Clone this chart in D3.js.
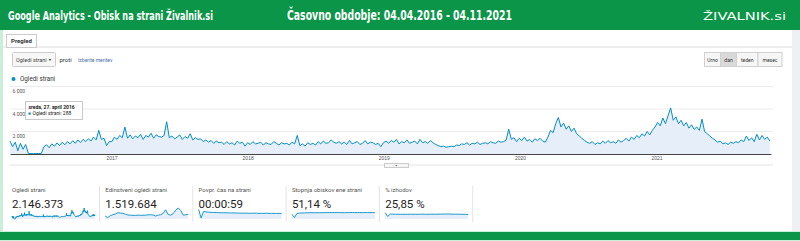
<!doctype html>
<html>
<head>
<meta charset="utf-8">
<script src="https://d3js.org/d3.v7.min.js"></script>
<style>
  body { margin: 0; background: #fff; }
  svg { display: block; font-family: Roboto, Arial, sans-serif; }
  .head { fill: #fff; font-family: "Liberation Sans Narrow", "DejaVu Sans Condensed", sans-serif; font-weight: bold; }
  .xaxis path.domain { stroke: #444; }
  .xaxis text { fill: #555; font-size: 5px; }
  .small { fill: #444; font-size: 5.5px; }
</style>
</head>
<body>
<svg width="800" height="241"></svg>
<script>
// weekly page views, starting Monday 4 April 2016
const views2016 = [1150, 650, 1050, 290, 950, 420, 850, 60, 40, 30, 50, 40, 60, 650, 820, 560, 900, 700, 980, 760,
  1050, 820, 1100, 900, 1180, 950, 1250, 1020, 1300, 1100, 1350, 1150, 1500, 1250, 2100, 1300, 1400, 750, 1100];
const views2017 = [1100, 1500, 1300, 1650, 1450, 2400, 1400, 1700, 1350, 1600, 1450, 1750, 1300, 1650, 1500, 1850,
  1400, 1700, 1550, 1500, 1650, 2870, 1450, 1600, 1350, 1500, 1700, 1300, 1550, 1400, 1800, 1250, 1450, 1300, 1350,
  1100, 1250, 1050, 1200, 950, 1150, 1000, 1050, 850, 1100, 900, 1000, 800, 1150, 950, 1050, 700];
const views2018 = [1000, 850, 1100, 900, 950, 1050, 800, 1000, 900, 850, 1100, 950, 800, 1000, 900, 950, 800, 1050,
  900, 1650, 750, 900, 700, 1000, 850, 950, 800, 1100, 900, 1150, 950, 1000, 1250, 1050, 950, 1100, 900, 1050, 850,
  1200, 900, 1000, 1100, 850, 950, 1200, 900, 1050, 1000, 850, 950, 650];
const views2019 = [1000, 1150, 950, 1200, 1050, 1300, 900, 1100, 1000, 1250, 950, 1050, 1150, 900, 1300, 1000, 1100,
  950, 1200, 1000, 850, 750, 650, 700, 600, 650, 700, 650, 800, 750, 900, 850, 1000, 800, 950, 900, 1050, 850, 950,
  1000, 900, 1100, 1000, 950, 1150, 1050, 1100, 1250, 2200, 1300, 1450, 1100];
const views2020 = [1400, 1200, 1500, 1150, 1300, 1050, 1350, 1200, 1400, 1150, 1050, 1500, 2100, 1900, 2700, 3250,
  2400, 2750, 2200, 2500, 2000, 2300, 1800, 1600, 1400, 1200, 1050, 950, 1100, 850, 1000, 900, 1150, 950, 1200, 1000,
  1100, 950, 1250, 1050, 1200, 1400, 1150, 1500, 1300, 1650, 1450, 1800, 1600, 2000, 1700, 2100];
const views2021 = [2400, 2800, 2500, 3200, 2700, 3400, 4100, 3000, 3300, 2700, 3000, 2500, 2800, 2300, 2600, 2200,
  2400, 2100, 3100, 2000, 1800, 1600, 1400, 1250, 1050, 1150, 900, 1000, 850, 1050, 950, 1100, 1000, 1250, 1100, 1600,
  1200, 1450, 1100, 1750, 1250, 1650, 1300, 1500, 1150];

const yTicks = [2000, 4000, 6000];
const yearTicks = [2017, 2018, 2019, 2020, 2021];
const tabs = ["Pregled"];
const periodButtons = ["Urno", "dan", "teden", "mesec"];
const tipDay = "sreda, 27. april 2016";
const tipValue = 288;

// scorecards (two-monthly values for the sparklines)
const metricLabels = ["Ogledi strani", "Edinstveni ogledi strani", "Povpr. čas na strani", "Stopnja obiskov ene strani", "% izhodov"];
const metricTotals = ["2.146.373", "1.519.684", "00:00:59", "51,14 %", "25,85 %"];
const sparkUnique = [480, 250, 560, 720, 850, 1050, 1000, 950, 800, 680, 640, 620, 600, 650, 620, 630, 650, 700, 720,
  680, 500, 650, 720, 950, 1550, 750, 650, 900, 1500, 1850, 1400, 650, 720, 800];
const sparkTime = [95, 10, 75, 70, 68, 66, 65, 64, 63, 62, 62, 61, 61, 60, 60, 59, 59, 58, 58, 58, 57, 57, 58, 57, 56,
  56, 56, 57, 56, 56, 56, 55, 56, 55];
const sparkBounce = [38, 12, 45, 48, 49, 50, 50, 51, 51, 51, 51, 51, 51.5, 51.5, 52, 52, 52, 52, 52, 52, 51, 51.5, 52,
  52, 52.5, 52, 52, 52, 52, 52.5, 52, 52, 52, 51.5];
const sparkExits = [34, 14, 27, 26, 26, 25.5, 25.5, 25.5, 25.5, 25.5, 26, 25.5, 25.5, 25.5, 26, 26, 25.5, 25.5, 26, 26,
  26, 26, 26.5, 26.5, 27, 27, 26.5, 26, 26, 26, 25.5, 25.5, 25, 24.5];

const startDate = new Date(2016, 3, 4);
const endDate = new Date(2021, 10, 4);
const views = [].concat(views2016, views2017, views2018, views2019, views2020, views2021);
const weekly = views.map((v, i) => ({ date: d3.timeDay.offset(startDate, i * 7), value: v }));

const green = "#0a9548";
const blue = "#058dc7";
const fmt = d3.formatLocale({ decimal: ",", thousands: ".", grouping: [3], currency: ["", "€"] }).format(",");

const svg = d3.select("svg");

// page frame
svg.append("rect").attr("width", 800).attr("height", 241).attr("fill", "#c9eed9");
svg.append("rect").attr("x", 3).attr("y", 30).attr("width", 797).attr("height", 201).attr("fill", "#fff");
svg.append("rect").attr("x", 792).attr("y", 30).attr("width", 8).attr("height", 201).attr("fill", "#eef0f3");
svg.append("rect").attr("width", 800).attr("height", 30).attr("fill", green);
svg.append("rect").attr("y", 232).attr("width", 800).attr("height", 8).attr("fill", green);

svg.append("text").attr("class", "head").attr("x", 8).attr("y", 19.5)
  .attr("font-size", 12.5).attr("textLength", 205).attr("lengthAdjust", "spacingAndGlyphs")
  .text("Google Analytics - Obisk na strani Živalnik.si");
svg.append("text").attr("class", "head").attr("x", 287).attr("y", 20)
  .attr("font-size", 14).attr("textLength", 225).attr("lengthAdjust", "spacingAndGlyphs")
  .text("Časovno obdobje: 04.04.2016 - 04.11.2021");
svg.append("text").attr("x", 703).attr("y", 19.5).attr("fill", "#fff")
  .attr("font-family", "DejaVu Sans, sans-serif").attr("font-size", 11)
  .attr("textLength", 83).attr("lengthAdjust", "spacingAndGlyphs")
  .text("ŽIVALNIK.si");

// tab row
svg.append("line").attr("x1", 3).attr("x2", 792).attr("y1", 47).attr("y2", 47).attr("stroke", "#ddd");
tabs.forEach((t, i) => {
  svg.append("rect").attr("x", 6.5 + i * 40).attr("y", 34.5).attr("width", 30).attr("height", 13)
    .attr("fill", "#fff").attr("stroke", "#ccc");
  svg.append("text").attr("x", 21.5 + i * 40).attr("y", 42.8).attr("text-anchor", "middle")
    .attr("font-size", 6).attr("font-weight", "bold").attr("fill", "#333").text(t);
});

// metric picker
svg.append("rect").attr("x", 12.5).attr("y", 52.5).attr("width", 43).attr("height", 14).attr("rx", 1)
  .attr("fill", "#f7f7f7").attr("stroke", "#ccc");
svg.append("text").attr("class", "small").attr("x", 16).attr("y", 61.5).attr("font-size", 5).text("Ogledi strani");
svg.append("path").attr("d", "M48.5,59 l3,0 l-1.5,2 z").attr("fill", "#555");
svg.append("text").attr("x", 59.5).attr("y", 61.5).attr("font-size", 6).attr("fill", "#333").text("proti");
svg.append("text").attr("x", 78).attr("y", 61.5).attr("font-size", 5).attr("fill", "#4a6fa8").text("Izberite meritev");

// period buttons
const btnW = [16, 16, 21.5, 24];
let bx = 704;
periodButtons.forEach((b, i) => {
  svg.append("rect").attr("x", bx + 0.5).attr("y", 52.5).attr("width", btnW[i]).attr("height", 14)
    .attr("fill", b === "dan" ? "#d9d9d9" : "#f6f6f6").attr("stroke", "#d0d0d0");
  svg.append("text").attr("x", bx + 0.5 + btnW[i] / 2).attr("y", 61.5).attr("text-anchor", "middle")
    .attr("font-size", 5).attr("fill", "#333").text(b);
  bx += btnW[i];
});

// legend
svg.append("circle").attr("cx", 13.5).attr("cy", 79).attr("r", 2).attr("fill", blue);
svg.append("text").attr("x", 20).attr("y", 81).attr("font-size", 6.3).attr("fill", "#333").text("Ogledi strani");

// main chart
const x = d3.scaleTime().domain([startDate, endDate]).range([10, 771]);
const y = d3.scaleLinear().domain([0, 6000]).range([154, 86.5]);

svg.append("g").selectAll("line").data(yTicks).join("line")
  .attr("x1", 10).attr("x2", 773).attr("y1", d => y(d)).attr("y2", d => y(d))
  .attr("stroke", "#ececec");

svg.append("path").datum(weekly)
  .attr("fill", "#e6eff9")
  .attr("d", d3.area().x(d => x(d.date)).y0(y(0)).y1(d => y(d.value)));
svg.append("path").datum(weekly)
  .attr("fill", "none").attr("stroke", blue).attr("stroke-width", 1).attr("stroke-linejoin", "round")
  .attr("d", d3.line().x(d => x(d.date)).y(d => y(d.value)));

svg.append("g").selectAll("text").data(yTicks).join("text")
  .attr("x", 12.5).attr("y", d => y(d) + 6.5)
  .attr("font-size", 5).attr("fill", "#555").text(d => fmt(d));

svg.append("g").attr("class", "xaxis").attr("transform", "translate(0,154)")
  .call(d3.axisBottom(x).tickValues(yearTicks.map(yr => new Date(yr, 0, 1)))
    .tickFormat(d3.timeFormat("%Y")).tickSize(0).tickSizeOuter(0).tickPadding(2));

// tooltip
const tip = svg.append("g").attr("transform", "translate(25.5,101.5)");
tip.append("rect").attr("width", 57).attr("height", 18).attr("fill", "#fff").attr("stroke", "#c8c8c8");
tip.append("text").attr("x", 3).attr("y", 7).attr("font-size", 5).attr("font-weight", "bold").attr("fill", "#222")
  .text(tipDay);
tip.append("rect").attr("x", 3).attr("y", 11).attr("width", 2.2).attr("height", 2.2).attr("fill", blue);
tip.append("text").attr("x", 7).attr("y", 13.8).attr("font-size", 5).attr("fill", "#222")
  .text("Ogledi strani: " + fmt(tipValue));

// resize bar under the chart
svg.append("line").attr("x1", 10).attr("x2", 773).attr("y1", 165).attr("y2", 165).attr("stroke", "#e2e2e2");
svg.append("rect").attr("x", 384.5).attr("y", 163.5).attr("width", 24).attr("height", 4)
  .attr("fill", "#f5f5f5").attr("stroke", "#ccc");
svg.append("path").attr("d", "M395,165 l2.5,0 l-1.25,1.3 z").attr("fill", "#666");

// scorecards
const sparkData = [views, sparkUnique, sparkTime, sparkBounce, sparkExits];
const sparkTop = [1, 1, 1.15, 1.7, 1.75];
metricLabels.forEach((lab, i) => {
  const x0 = 12 + i * 93.3;
  const g = svg.append("g");
  g.append("text").attr("x", x0).attr("y", 192).attr("font-size", 6).attr("fill", "#555").text(lab);
  g.append("text").attr("x", x0).attr("y", 207.5).attr("font-size", 11.5).attr("fill", "#222").text(metricTotals[i]);
  g.append("line").attr("x1", x0 + 87.5).attr("x2", x0 + 87.5).attr("y1", 186).attr("y2", 222).attr("stroke", "#e4e4e4");

  const vals = sparkData[i];
  const sx = d3.scaleLinear().domain([0, vals.length - 1]).range([x0, x0 + 83]);
  const sy = d3.scaleLinear().domain([0, d3.max(vals) * sparkTop[i]]).range([219, 208]);
  g.append("path").datum(vals).attr("fill", "#e6eff9")
    .attr("d", d3.area().x((d, j) => sx(j)).y0(219).y1(d => sy(d)));
  g.append("path").datum(vals).attr("fill", "none").attr("stroke", blue).attr("stroke-width", 0.9)
    .attr("d", d3.line().x((d, j) => sx(j)).y(d => sy(d)));
});
</script>
</body>
</html>
